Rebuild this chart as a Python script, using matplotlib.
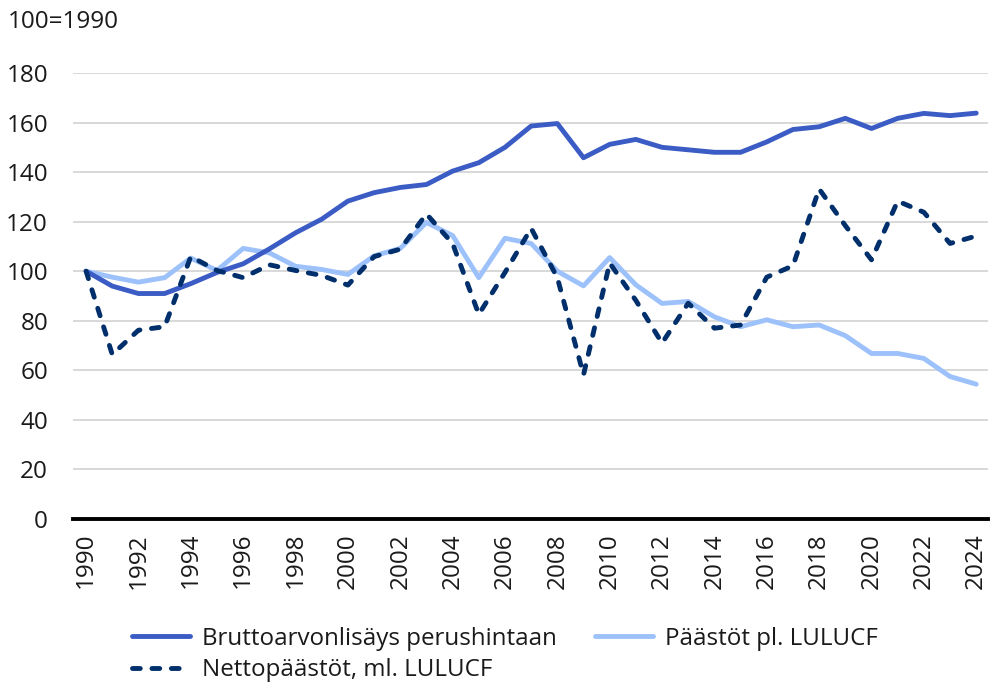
import matplotlib.pyplot as plt

years = list(range(1990, 2025))

brutto = [100, 94, 91, 91, 95, 99.5, 103, 109, 115.5, 121, 128.3, 131.7, 133.8, 135,
          140.4, 143.8, 150, 158.6, 159.6, 145.8, 151.2, 153.2, 150, 149, 148, 148,
          152.2, 157.2, 158.3, 161.7, 157.6, 161.7, 163.7, 162.8, 163.8]
paastot = [100, 97.6, 95.6, 97.4, 105.3, 100.3, 109.2, 107.4, 102, 100.7, 98.7, 106.2,
           109.2, 119.7, 114.4, 97.4, 113.3, 111.2, 100, 94.1, 105.5, 94.5, 87, 87.8,
           81.6, 77.6, 80.4, 77.6, 78.3, 74, 66.8, 66.8, 64.8, 57.5, 54.4]
netto = [100, 66.4, 76.2, 77.6, 105.9, 100.3, 97.4, 102.6, 100.3, 98.3, 94.4, 105.9,
         108.9, 123.1, 111.2, 82.6, 99.5, 117.3, 97.4, 58.2, 103.3, 88.2, 71, 87.1,
         77, 78.3, 97.6, 102.2, 133.2, 118.4, 104.6, 128.3, 123.8, 111.2, 114.2]

labels = ["Bruttoarvonlisäys perushintaan", "Päästöt pl. LULUCF", "Nettopäästöt, ml. LULUCF"]
colors = ["#3b5cc4", "#9dc1fb", "#002f6b"]

plt.rcParams["font.family"] = ["Open Sans", "DejaVu Sans"]

fig = plt.figure(figsize=(9.9, 6.91), dpi=100)
ax = fig.add_axes([73 / 990, 1 - 519 / 691, (988 - 73) / 990, (519 - 73) / 691])

l1, = ax.plot(years, brutto, color=colors[0], lw=3.5, solid_capstyle="round",
              solid_joinstyle="round", zorder=3)
l2, = ax.plot(years, paastot, color=colors[1], lw=3.5, solid_capstyle="round",
              solid_joinstyle="round", zorder=2)
l3, = ax.plot(years, netto, color=colors[2], lw=3.5, dashes=(1.6, 2.4),
              dash_capstyle="round", dash_joinstyle="round", zorder=4)

ax.set_xlim(1989.5, 2024.45)
ax.set_ylim(0, 180)
ax.set_yticks(range(0, 181, 20))
ax.set_xticks(years[::2])
ax.set_xticklabels([str(y) for y in years[::2]], rotation=90)
ax.grid(axis="y", color="#d6d6d6", lw=1.3)
ax.set_axisbelow(True)
for s in ["top", "right", "left"]:
    ax.spines[s].set_visible(False)
ax.spines["bottom"].set_linewidth(2.8)
ax.spines["bottom"].set_color("black")
ax.spines["bottom"].set_zorder(5)
ax.tick_params(axis="both", length=0, labelsize=17.5, colors="#1a1a1a")
ax.tick_params(axis="y", pad=18)
ax.tick_params(axis="x", pad=10)

fig.text(8 / 990, 1 - 22 / 691, "100=1990", fontsize=17.5, va="center", ha="left",
         color="#1a1a1a")

fig.legend([l1, l3, l2], [labels[0], labels[2], labels[1]], loc="upper left",
           bbox_to_anchor=(110 / 990, 1 - 605 / 691), ncol=2, frameon=False,
           fontsize=17.4, handlelength=2.4, handletextpad=0.5, columnspacing=1.6,
           labelspacing=0.3, labelcolor="#1a1a1a")

fig.savefig("out.png", dpi=100)
